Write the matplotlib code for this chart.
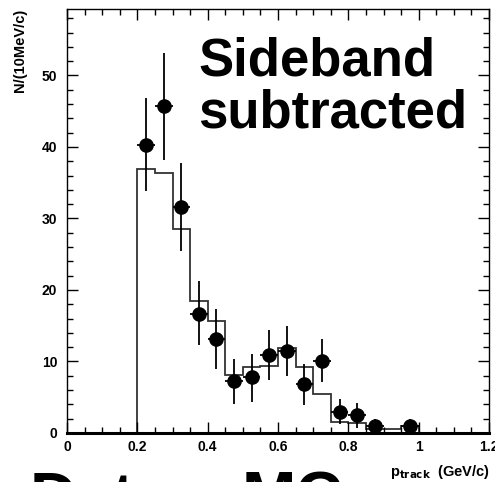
import matplotlib
matplotlib.use('Agg')
import matplotlib.pyplot as plt
from matplotlib.ticker import MultipleLocator
import numpy as np

plt.rcParams['font.family'] = ['Liberation Sans', 'DejaVu Sans']
plt.rcParams['font.weight'] = 'bold'

# data points (bin centres, value, upper / lower end of error bar)
x_data = [0.225, 0.275, 0.325, 0.375, 0.425, 0.475, 0.525, 0.575, 0.625,
          0.675, 0.725, 0.775, 0.825, 0.875, 0.975]
y_data = [40.3, 45.7, 31.6, 16.7, 13.2, 7.3, 7.8, 10.9, 11.5,
          6.9, 10.0, 3.0, 2.5, 1.0, 1.0]
y_hi = [46.9, 53.2, 37.7, 21.2, 17.4, 10.4, 11.0, 14.4, 14.9,
        9.7, 13.1, 4.7, 4.2, 1.9, 1.9]
y_lo = [33.8, 38.2, 25.4, 12.3, 9.0, 4.1, 4.4, 7.4, 8.0,
        3.9, 7.2, 1.3, 0.7, 0.1, 0.1]
x_halfwidth = 0.025

# MC histogram
mc_edges = [0.2, 0.25, 0.3, 0.35, 0.4, 0.45, 0.5, 0.55, 0.6, 0.65, 0.7,
            0.75, 0.8, 0.85, 0.9, 0.95, 1.0]
mc_vals = [36.9, 36.3, 28.6, 18.5, 15.7, 8.1, 9.3, 9.4, 11.9, 9.3, 5.4,
           1.6, 1.4, 0.6, 0.5, 1.0]

x_ticks = [0, 0.2, 0.4, 0.6, 0.8, 1.0, 1.2]
x_ticklabels = ['0', '0.2', '0.4', '0.6', '0.8', '1', '1.2']
y_ticks = [0, 10, 20, 30, 40, 50]

fig = plt.figure(figsize=(4.95, 4.82), dpi=100)
ax = fig.add_axes([67/495, 1-433/482, 422/495, 424/482])

ax.stairs(mc_vals, mc_edges, baseline=0, color='#333333', lw=1.3)

y_arr = np.array(y_data)
yerr = [y_arr - np.array(y_lo), np.array(y_hi) - y_arr]
ax.errorbar(x_data, y_data, yerr=yerr, xerr=x_halfwidth, fmt='o', color='black',
            ms=9.5, elinewidth=1.3, capsize=0)

ax.set_xlim(0, 1.2)
ax.set_ylim(0, 59.3)
ax.set_xticks(x_ticks)
ax.set_xticklabels(x_ticklabels)
ax.set_yticks(y_ticks)
ax.xaxis.set_minor_locator(MultipleLocator(0.05))
ax.yaxis.set_minor_locator(MultipleLocator(2))
ax.tick_params(which='both', direction='in', top=True, right=True, labelsize=10)
ax.tick_params(which='major', length=8, width=1)
ax.tick_params(which='minor', length=4, width=1)
ax.tick_params(axis='y', pad=7)
ax.tick_params(axis='x', pad=5)
for s in ['top', 'left', 'right']:
    ax.spines[s].set_linewidth(1)
ax.spines['bottom'].set_linewidth(2.2)

ax.text(-0.112, 1.0, 'N/(10MeV/c)', rotation=90, ha='center', va='top',
        fontsize=10.5, fontweight='bold', transform=ax.transAxes)
fig.text(490/495, 1-472/482, r'p$_{\mathbf{track}}$  (GeV/c)', ha='right', va='center',
         fontsize=10.5, fontweight='bold')

fig.text(198/495, 1-76/482, 'Sideband', fontsize=38, fontweight='bold', va='baseline')
fig.text(198/495, 1-128/482, 'subtracted', fontsize=38, fontweight='bold', va='baseline')

fig.text(30/495, 1-517/482, 'Data', fontsize=47, fontweight='bold', va='baseline')
fig.text(242/495, 1-517/482, 'MC', fontsize=47, fontweight='bold', va='baseline')

fig.savefig('out.png', dpi=100)
